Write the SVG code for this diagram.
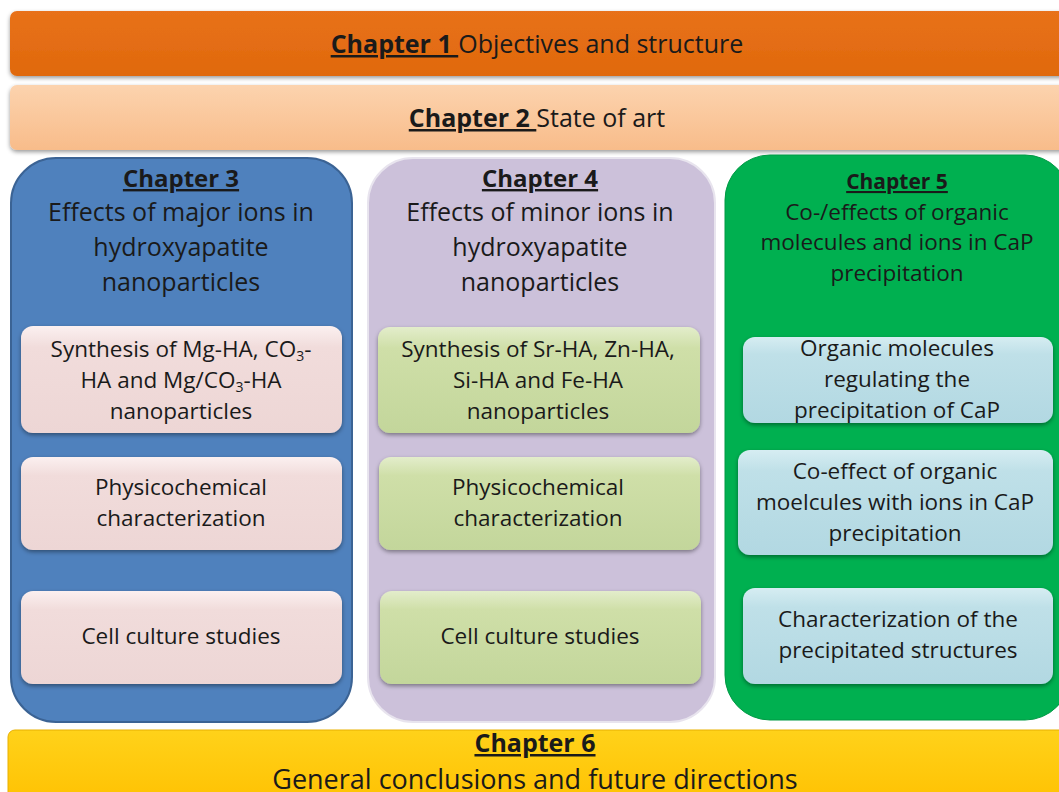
<svg xmlns="http://www.w3.org/2000/svg" width="1059" height="792" viewBox="0 0 1059 792">
<defs>
<style>
text{font-family:"Open Sans",Lato,"Liberation Sans",sans-serif;fill:#1a1a1a;text-anchor:middle}
.h{font-weight:bold;text-decoration:underline}
.big{font-size:25px}
.mid{font-size:22.5px}
.box{font-size:22.5px}
</style>
<linearGradient id="gOr" x1="0" y1="0" x2="0" y2="1"><stop offset="0" stop-color="#E8711A"/><stop offset="1" stop-color="#E0690C"/></linearGradient>
<linearGradient id="gPe" x1="0" y1="0" x2="0" y2="1"><stop offset="0" stop-color="#FCD3AE"/><stop offset="1" stop-color="#F8BC8A"/></linearGradient>
<linearGradient id="gYe" x1="0" y1="0" x2="0" y2="1"><stop offset="0" stop-color="#FFD21A"/><stop offset="1" stop-color="#FFC000"/></linearGradient>
<linearGradient id="gPk" x1="0" y1="0" x2="0" y2="1"><stop offset="0" stop-color="#FBF0F0"/><stop offset="0.2" stop-color="#F1DCDB"/><stop offset="1" stop-color="#EDD6D5"/></linearGradient>
<linearGradient id="gGr" x1="0" y1="0" x2="0" y2="1"><stop offset="0" stop-color="#E3EDCB"/><stop offset="0.2" stop-color="#CFDFA8"/><stop offset="1" stop-color="#C3D69B"/></linearGradient>
<linearGradient id="gBl" x1="0" y1="0" x2="0" y2="1"><stop offset="0" stop-color="#D6EDF2"/><stop offset="0.2" stop-color="#BFE0E8"/><stop offset="1" stop-color="#B2D8E2"/></linearGradient>
<filter id="sh" x="-10%" y="-10%" width="120%" height="130%"><feDropShadow dx="0" dy="2" stdDeviation="2" flood-color="#000" flood-opacity="0.4"/></filter>
</defs>

<g id="chapter1">
<rect x="10" y="11" width="1060" height="65" rx="7" fill="url(#gOr)" filter="url(#sh)"/>
<text x="537" y="53" class="big"><tspan class="h">Chapter 1 </tspan>Objectives and structure</text>
</g>

<g id="chapter2">
<rect x="10" y="85" width="1060" height="65" rx="7" fill="url(#gPe)" filter="url(#sh)"/>
<text x="537" y="127" class="big"><tspan class="h">Chapter 2 </tspan>State of art</text>
</g>

<g id="chapter3">
<rect x="11" y="158" width="341" height="564" rx="45" fill="#4F81BD" stroke="#3B6394" stroke-width="2"/>
<text x="181" y="187" class="h" style="font-size:24px">Chapter 3</text>
<text x="181" y="221" class="big">Effects of major ions in</text>
<text x="181" y="256" class="big">hydroxyapatite</text>
<text x="181" y="291" class="big">nanoparticles</text>
</g>
<g id="ch3-synthesis">
<rect x="21" y="326" width="321" height="107" rx="12" fill="url(#gPk)" filter="url(#sh)"/>
<text x="181" y="357" class="box">Synthesis of Mg-HA, CO<tspan font-size="14" dy="4">3</tspan><tspan dy="-4">-</tspan></text>
<text x="181" y="388" class="box">HA and Mg/CO<tspan font-size="14" dy="4">3</tspan><tspan dy="-4">-HA</tspan></text>
<text x="181" y="419" class="box">nanoparticles</text>
</g>
<g id="ch3-physico">
<rect x="21" y="457" width="321" height="93" rx="12" fill="url(#gPk)" filter="url(#sh)"/>
<text x="181" y="495" class="box">Physicochemical</text>
<text x="181" y="526" class="box">characterization</text>
</g>
<g id="ch3-cell">
<rect x="21" y="591" width="321" height="93" rx="12" fill="url(#gPk)" filter="url(#sh)"/>
<text x="181" y="644" class="box">Cell culture studies</text>
</g>

<g id="chapter4">
<rect x="368" y="158" width="347" height="564" rx="45" fill="#CCC1DA" stroke="#E8E4EE" stroke-width="2"/>
<text x="540" y="187" class="h" style="font-size:24px">Chapter 4</text>
<text x="540" y="221" class="big">Effects of minor ions in</text>
<text x="540" y="256" class="big">hydroxyapatite</text>
<text x="540" y="291" class="big">nanoparticles</text>
</g>
<g id="ch4-synthesis">
<rect x="378" y="327" width="322" height="106" rx="12" fill="url(#gGr)" filter="url(#sh)"/>
<text x="538" y="357" class="box">Synthesis of Sr-HA, Zn-HA,</text>
<text x="538" y="388" class="box">Si-HA and Fe-HA</text>
<text x="538" y="419" class="box">nanoparticles</text>
</g>
<g id="ch4-physico">
<rect x="379" y="457" width="321" height="93" rx="12" fill="url(#gGr)" filter="url(#sh)"/>
<text x="538" y="495" class="box">Physicochemical</text>
<text x="538" y="526" class="box">characterization</text>
</g>
<g id="ch4-cell">
<rect x="380" y="591" width="321" height="93" rx="12" fill="url(#gGr)" filter="url(#sh)"/>
<text x="540" y="644" class="box">Cell culture studies</text>
</g>

<g id="chapter5">
<rect x="725" y="155" width="345" height="565" rx="45" fill="#00B050" stroke="#009944" stroke-width="1"/>
<text x="897" y="189" class="h" style="font-size:21px">Chapter 5</text>
<text x="897" y="220" class="mid">Co-/effects of organic</text>
<text x="897" y="250" class="mid">molecules and ions in CaP</text>
<text x="897" y="281" class="mid">precipitation</text>
</g>
<g id="ch5-organic">
<rect x="743" y="337" width="310" height="86" rx="12" fill="url(#gBl)" filter="url(#sh)"/>
<text x="897" y="356" class="box">Organic molecules</text>
<text x="897" y="387" class="box">regulating the</text>
<text x="897" y="418" class="box">precipitation of CaP</text>
</g>
<g id="ch5-coeffect">
<rect x="738" y="450" width="315" height="105" rx="12" fill="url(#gBl)" filter="url(#sh)"/>
<text x="895" y="479" class="box">Co-effect of organic</text>
<text x="895" y="510" class="box">moelcules with ions in CaP</text>
<text x="895" y="541" class="box">precipitation</text>
</g>
<g id="ch5-charact">
<rect x="743" y="588" width="310" height="96" rx="12" fill="url(#gBl)" filter="url(#sh)"/>
<text x="898" y="627" class="box">Characterization of the</text>
<text x="898" y="658" class="box">precipitated structures</text>
</g>

<g id="chapter6">
<rect x="8" y="730" width="1062" height="80" rx="7" fill="url(#gYe)" stroke="#E8B000" stroke-width="1"/>
<text x="535" y="752" class="h" style="font-size:25px">Chapter 6</text>
<text x="535" y="789" style="font-size:27px">General conclusions and future directions</text>
</g>

<g id="connectors"/>
</svg>
